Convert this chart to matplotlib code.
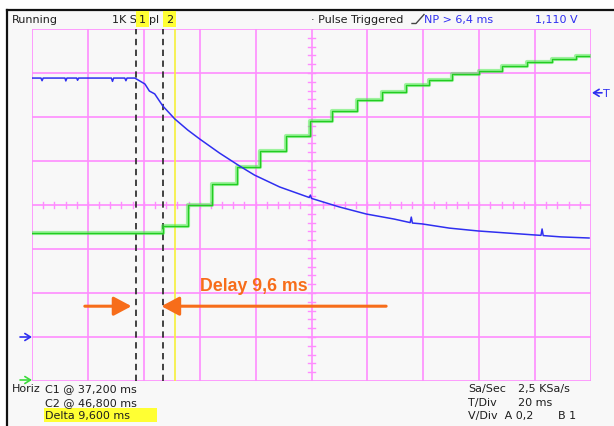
import matplotlib
matplotlib.use('Agg')
import matplotlib.pyplot as plt
from matplotlib.patches import Rectangle

# scope settings
t_div_ms = 20.0      # horizontal: 20 ms/div, 10 divisions
a_v_div = 0.2        # channel A: 0.2 V/div, ground at division 1
a_ground_div = 1.0
b_v_div = 1.0        # channel B: 1 V/div, ground at division 0
cursor1_ms = 37.2
cursor2_ms = 46.8
trigger_ms = 51.0
trigger_level_v = 1.110

# channel A (blue) - time in ms, voltage in V
a_time = [0, 3.2, 3.6, 4.0, 11.8, 12.1, 12.5, 16.0, 16.3, 16.7, 28.4, 28.8, 29.2,
          33.2, 33.6, 34.0, 36.8, 40.4, 41.5, 42.0, 43.9, 46.8, 51.1, 55.7, 60.0,
          67.1, 74.3, 79.6, 88.6, 99.2, 99.6, 100.0, 110.0, 119.6, 129.6, 135.3,
          135.7, 136.1, 139.6, 149.3, 159.6, 169.6, 179.6, 182.1, 182.5, 182.9,
          189.3, 199.3]
a_volts = [1.177, 1.177, 1.165, 1.177, 1.177, 1.164, 1.177, 1.177, 1.167, 1.177, 1.177,
           1.162, 1.177, 1.177, 1.165, 1.177, 1.177, 1.150, 1.128, 1.118, 1.105, 1.050,
           0.991, 0.941, 0.900, 0.836, 0.777, 0.736, 0.682, 0.634, 0.645, 0.630, 0.591,
           0.559, 0.536, 0.520, 0.545, 0.518, 0.514, 0.495, 0.482, 0.473, 0.464, 0.462,
           0.491, 0.461, 0.455, 0.450]

# channel B (green) staircase - step start times (ms) and levels (V)
b_step_ms = [0, 46.8, 55.7, 64.3, 73.2, 81.4, 90.7, 99.3, 107.5, 116.4, 125.4,
             133.9, 142.1, 150.4, 160.0, 168.2, 177.1, 186.1, 194.6, 199.3]
b_levels = [3.36, 3.52, 4.01, 4.48, 4.86, 5.23, 5.57, 5.91, 6.14, 6.39, 6.57,
            6.73, 6.84, 6.98, 7.05, 7.16, 7.25, 7.32, 7.39, 7.39]

W, H = 614, 427
PINK = '#ff8cff'
BLUE = '#2f2ff0'
GREEN = '#3ddc3d'
ORANGE = '#f76d1a'
TXT = '#1e1e1e'


def fx(x):
    return x / W


def fy(y):
    return 1 - y / H


fig = plt.figure(figsize=(W / 100, H / 100), dpi=100, facecolor='white')

# window background and frame
bg = fig.add_axes([0, 0, 1, 1], zorder=-1)
bg.set_xlim(0, W)
bg.set_ylim(H, 0)
bg.axis('off')
bg.add_patch(Rectangle((7, 11), W - 7, H - 11, facecolor='#f8f8f8', edgecolor='none'))
bg.plot([7, 7], [11, H], color='#111111', lw=1.6)
bg.plot([7, W], [11, 11], color='#111111', lw=1.6)

# scope graticule area
ax = fig.add_axes([fx(32), fy(382), (591 - 32) / W, (382 - 30) / H])
ax.set_xlim(0, 10 * t_div_ms)
ax.set_ylim(0, 8)
ax.axis('off')
ax.patch.set_alpha(0)

for i in range(11):
    ax.axvline(i * t_div_ms, color=PINK, lw=1.2, zorder=1)
for j in range(9):
    ax.axhline(j, color=PINK, lw=1.2, zorder=1)

# minor ticks on the centre lines
for k in range(1, 50):
    t = k * t_div_ms / 5
    ax.plot([t, t], [3.94, 4.06], color=PINK, lw=1.0, zorder=1)
for k in range(1, 40):
    v = k / 5
    ax.plot([98.9, 101.1], [v, v], color=PINK, lw=1.0, zorder=1)

# cursors and trigger marker
ax.axvline(trigger_ms, color='#f6f03a', lw=1.2, zorder=2)
for c in (cursor1_ms, cursor2_ms):
    ax.axvline(c, color='#333333', lw=1.3, ls=(0, (3.5, 2.5)), zorder=2)

# traces
a_div = [v / a_v_div + a_ground_div for v in a_volts]
b_div = [v / b_v_div for v in b_levels]
ax.step(b_step_ms, b_div, where='post', color='#44ee44', lw=3.0, alpha=0.5, zorder=3)
ax.step(b_step_ms, b_div, where='post', color='#22cc22', lw=1.0, zorder=3)
ax.plot(a_time, a_div, color=BLUE, lw=1.1, zorder=4)

# delay annotation
arrow_y = 1.70
ax.annotate('', xy=(35.6, arrow_y), xytext=(18.9, arrow_y),
            arrowprops=dict(arrowstyle='-|>,head_length=0.75,head_width=0.4',
                            mutation_scale=14.4, color=ORANGE, lw=2.2,
                            shrinkA=0, shrinkB=0), zorder=5)
ax.annotate('', xy=(46.3, arrow_y), xytext=(126.7, arrow_y),
            arrowprops=dict(arrowstyle='-|>,head_length=0.75,head_width=0.4',
                            mutation_scale=14.4, color=ORANGE, lw=2.2,
                            shrinkA=0, shrinkB=0), zorder=5)
fig.text(fx(200), fy(287), 'Delay 9,6 ms', color=ORANGE, fontsize=12.8,
         fontweight='bold', family='Liberation Sans', va='center', ha='left')

# ground markers and trigger level arrow
def px_arrow(x0, x1, y, color):
    bg.annotate('', xy=(x1, y), xytext=(x0, y),
                arrowprops=dict(arrowstyle='->,head_length=0.4,head_width=0.25',
                                mutation_scale=10, color=color, lw=1.2,
                                shrinkA=0, shrinkB=0))

a_gnd_px = 382 - 44 * a_ground_div
trig_px = 382 - 44 * (trigger_level_v / a_v_div + a_ground_div)
px_arrow(20, 32, a_gnd_px, BLUE)
px_arrow(20, 32, 381, GREEN)
px_arrow(602, 592, trig_px, BLUE)
fig.text(fx(603), fy(trig_px), 'T', color=BLUE, fontsize=8, va='center')

# header line
font = dict(fontsize=8, family='DejaVu Sans', va='center')
fig.text(fx(12), fy(20), 'Running', color=TXT, **font)
fig.text(fx(112), fy(20), '1K S', color=TXT, **font)
fig.text(fx(149), fy(20), 'pl', color=TXT, **font)
for label, x in (('1', 139), ('2', 166)):
    fig.text(fx(x), fy(20), label, color=TXT, zorder=5,
             bbox=dict(facecolor='#ffff33', edgecolor='none', pad=1.8), **font)
fig.text(fx(311), fy(20), '· Pulse Triggered', color=TXT, **font)
bg.plot([412, 416, 424], [24.5, 24.5, 15.5], color='#444444', lw=1.0)
fig.text(fx(424), fy(20), 'NP > 6,4 ms', color=BLUE, **font)
fig.text(fx(535), fy(20), '1,110 V', color=BLUE, **font)

# footer readouts
fig.text(fx(12), fy(389), 'Horiz', color=TXT, **font)
fig.text(fx(45), fy(389), 'C1 @ 37,200 ms', color=TXT, **font)
fig.text(fx(45), fy(403), 'C2 @ 46,800 ms', color=TXT, **font)
bg.add_patch(Rectangle((44, 409), 113, 14, facecolor='#ffff33', edgecolor='none'))
fig.text(fx(45), fy(416), 'Delta 9,600 ms', color=TXT, **font)
fig.text(fx(468), fy(389), 'Sa/Sec', color=TXT, **font)
fig.text(fx(518), fy(389), '2,5 KSa/s', color=TXT, **font)
fig.text(fx(468), fy(403), 'T/Div', color=TXT, **font)
fig.text(fx(518), fy(403), '20 ms', color=TXT, **font)
fig.text(fx(468), fy(416), 'V/Div  A 0,2', color=TXT, **font)
fig.text(fx(558), fy(416), 'B 1', color=TXT, **font)

plt.savefig('out.png', dpi=100, facecolor='white')
